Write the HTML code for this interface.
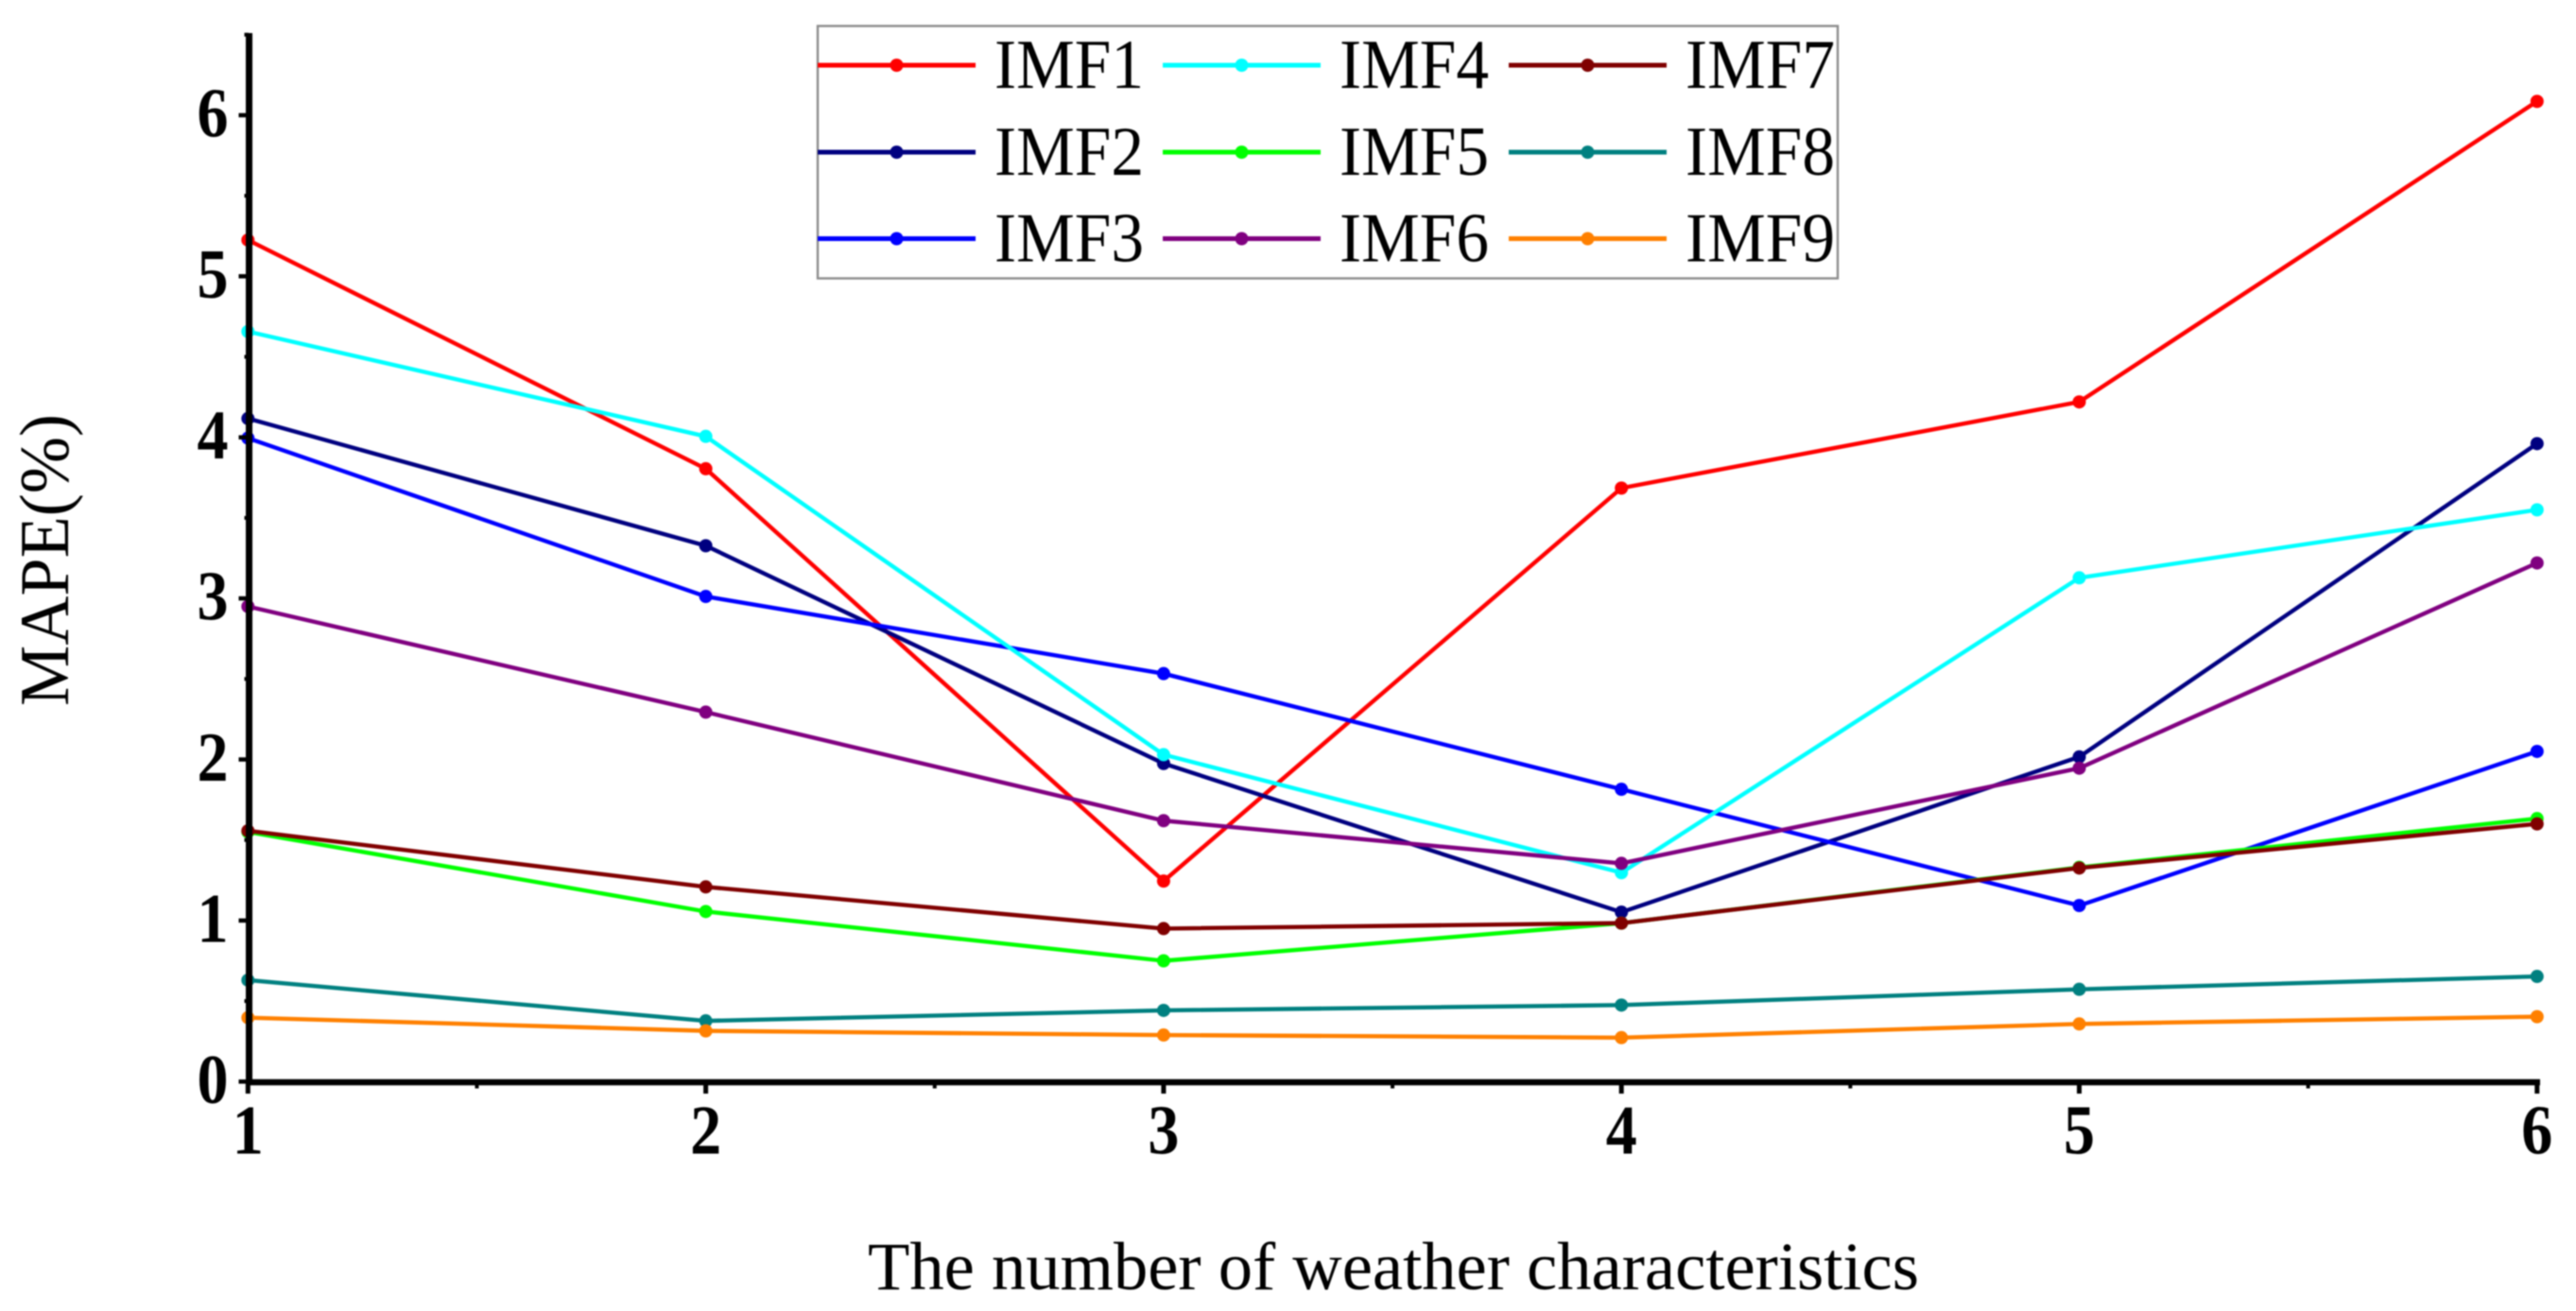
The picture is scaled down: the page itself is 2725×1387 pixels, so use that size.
<!DOCTYPE html>
<html lang="en">
<head>
<meta charset="utf-8">
<title>MAPE vs number of weather characteristics</title>
<style>
  html, body { margin: 0; padding: 0; background: #fff; width: 2725px; height: 1387px; overflow: hidden; }
  svg { display: block; filter: blur(0.7px); }
  text { font-family: "Liberation Serif", "Times New Roman", serif; fill: #000; }
</style>
</head>
<body>
<svg id="chart" xmlns="http://www.w3.org/2000/svg" width="2725" height="1387" viewBox="0 0 2725 1387">
  <rect x="0" y="0" width="2725" height="1387" fill="#ffffff"></rect>
  <g id="series-layer"></g>
  <g id="axis-layer"></g>
  <g id="legend-layer"></g>
  <text x="918" y="1364" font-size="72" textLength="1112" lengthAdjust="spacingAndGlyphs">The number of weather characteristics</text>
  <text transform="translate(72 747) rotate(-90)" x="0" y="0" font-size="74" textLength="309" lengthAdjust="spacingAndGlyphs">MAPE(%)</text>
</svg>
<script>
const categories = [1, 2, 3, 4, 5, 6];
const yTickLabels = [0, 1, 2, 3, 4, 5, 6];
const xMinorTicks = [1.5, 2.5, 3.5, 4.5, 5.5];
const yMinorTicks = [0.5, 1.5, 2.5, 3.5, 4.5, 5.5, 6.5];
const seriesNames = ['IMF1', 'IMF2', 'IMF3', 'IMF4', 'IMF5', 'IMF6', 'IMF7', 'IMF8', 'IMF9'];
const seriesColors = ['#ff0000', '#000080', '#0000ff', '#00ffff', '#00ff00', '#800080', '#800000', '#008080', '#ff8000'];
const imf1 = [5.225, 3.805, 1.245, 3.685, 4.22, 6.086];
const imf2 = [4.117, 3.327, 1.975, 1.052, 2.016, 3.961];
const imf3 = [3.995, 3.012, 2.533, 1.815, 1.093, 2.05];
const imf4 = [4.657, 4.006, 2.03, 1.297, 3.128, 3.55];
const imf5 = [1.55, 1.056, 0.75, 0.984, 1.33, 1.633];
const imf6 = [2.95, 2.294, 1.62, 1.355, 1.946, 3.22];
const imf7 = [1.557, 1.209, 0.95, 0.984, 1.326, 1.6];
const imf8 = [0.63, 0.377, 0.442, 0.475, 0.573, 0.653];
const imf9 = [0.397, 0.315, 0.289, 0.273, 0.358, 0.403];
const seriesValues = [imf1, imf2, imf3, imf4, imf5, imf6, imf7, imf8, imf9];

const SVG_NS = 'http://www.w3.org/2000/svg';
const xScale = function (v) { return 262.3 + (v - 1) * 484.3; };
const yScale = function (v) { return 1144.3 - v * 170.4; };

function make(tag, attrs, parent) {
  const el = document.createElementNS(SVG_NS, tag);
  Object.keys(attrs).forEach(function (k) { el.setAttribute(k, attrs[k]); });
  parent.appendChild(el);
  return el;
}

const seriesLayer = document.getElementById('series-layer');
const axisLayer = document.getElementById('axis-layer');
const legendLayer = document.getElementById('legend-layer');

/* series */
seriesValues.forEach(function (values, s) {
  const group = make('g', {}, seriesLayer);
  
  
  const pts = values.map(function (v, i) {
    return xScale(categories[i]).toFixed(2) + ',' + yScale(v).toFixed(2);
  }).join(' ');
  const line = make('polyline', { points: pts, fill: 'none', stroke: seriesColors[s], 'stroke-width': 4.4, 'stroke-linejoin': 'round' }, group);
  
  
  values.forEach(function (v, i) {
    const dot = make('circle', { cx: xScale(categories[i]), cy: yScale(v), r: 7, fill: seriesColors[s] }, group);
    
    
  });
});

/* axes */
const xAxisLine = make('line', { x1: 260, x2: 2687, y1: 1145, y2: 1145, stroke: '#000', 'stroke-width': 6.5 }, axisLayer);


const yAxisLine = make('line', { x1: 263.5, x2: 263.5, y1: 35, y2: 1148, stroke: '#000', 'stroke-width': 7 }, axisLayer);



categories.forEach(function (c) {
  const x = xScale(c);
  const tick = make('line', { x1: x, x2: x, y1: 1145, y2: 1157, stroke: '#000', 'stroke-width': 5 }, axisLayer);
  
  
  const label = make('text', { x: x, y: 1220.5, 'font-size': 74, 'font-weight': 'bold', 'text-anchor': 'middle', textLength: 33, lengthAdjust: 'spacingAndGlyphs' }, axisLayer);
  label.textContent = String(c);
  
  
});
xMinorTicks.forEach(function (c) {
  const x = xScale(c);
  const tick = make('line', { x1: x, x2: x, y1: 1145, y2: 1151.5, stroke: '#000', 'stroke-width': 4 }, axisLayer);
  
  
});
yTickLabels.forEach(function (v) {
  const y = yScale(v);
  const tick = make('line', { x1: 252.5, x2: 263, y1: y, y2: y, stroke: '#000', 'stroke-width': 4.5 }, axisLayer);
  
  
  const label = make('text', { x: 225, y: y + 22.5, 'font-size': 74, 'font-weight': 'bold', 'text-anchor': 'middle', textLength: 33, lengthAdjust: 'spacingAndGlyphs' }, axisLayer);
  label.textContent = String(v);
  
  
});
yMinorTicks.forEach(function (v) {
  const y = yScale(v);
  const tick = make('line', { x1: 258.5, x2: 263, y1: y, y2: y, stroke: '#000', 'stroke-width': 4 }, axisLayer);
  
  
});

/* legend */
const legendBox = make('rect', { x: 865, y: 27.5, width: 1079, height: 267, fill: '#ffffff', stroke: '#8c8c8c', 'stroke-width': 2.4 }, legendLayer);


const colLineStart = [865, 1230, 1596];
const rowLineY = [69, 161, 252.5];
seriesNames.forEach(function (name, s) {
  const col = Math.floor(s / 3);
  const row = s % 3;
  const left = colLineStart[col];
  const y = rowLineY[row];
  const entry = make('g', {}, legendLayer);
  
  
  const sample = make('line', { x1: left, x2: left + 167, y1: y, y2: y, stroke: seriesColors[s], 'stroke-width': 5 }, entry);
  
  
  const dot = make('circle', { cx: left + 83.5, cy: y, r: 7, fill: seriesColors[s] }, entry);
  
  
  const label = make('text', { x: left + 187, y: y + 24, 'font-size': 74, textLength: 158, lengthAdjust: 'spacingAndGlyphs' }, entry);
  label.textContent = name;
  
  
});
</script>
</body>
</html>
